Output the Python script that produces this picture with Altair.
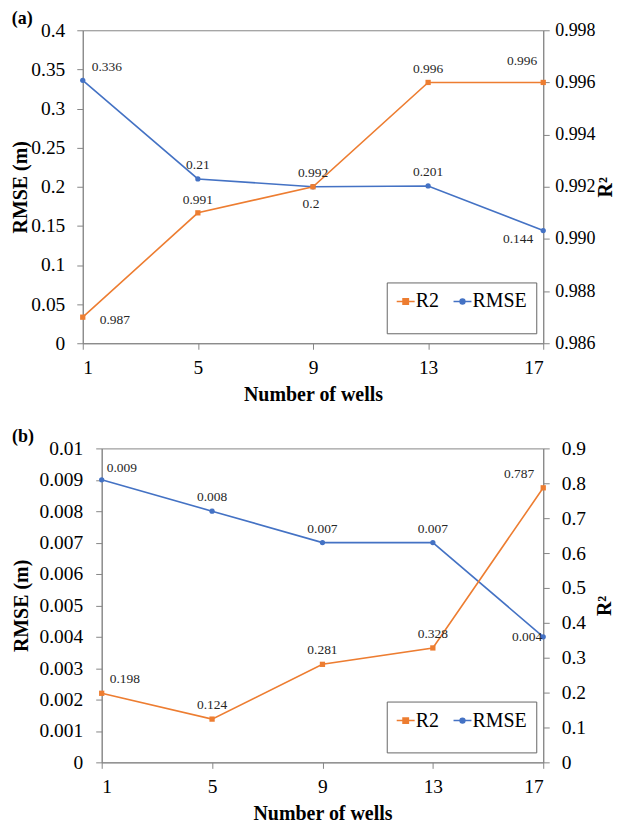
import altair as alt
import pandas as pd

# ---------------- data ----------------
wells = [1, 5, 9, 13, 17]
series_names = ["R2", "RMSE"]
series_colors = ["#ED7D31", "#4472C4"]

a_rmse = [0.336, 0.21, 0.2, 0.201, 0.144]
a_r2 = [0.987, 0.991, 0.992, 0.996, 0.996]
b_rmse = [0.009, 0.008, 0.007, 0.007, 0.004]
b_r2 = [0.198, 0.124, 0.281, 0.328, 0.787]

a_rmse_ticks = [0, 0.05, 0.1, 0.15, 0.2, 0.25, 0.3, 0.35, 0.4]
a_r2_ticks = [0.986, 0.988, 0.990, 0.992, 0.994, 0.996, 0.998]
b_rmse_ticks = [0, 0.001, 0.002, 0.003, 0.004, 0.005, 0.006, 0.007, 0.008, 0.009, 0.01]
b_r2_ticks = [0, 0.1, 0.2, 0.3, 0.4, 0.5, 0.6, 0.7, 0.8, 0.9]

# ---------------- style ----------------
FONT = "Liberation Serif"
AXIS_GREY = "#868686"
# legend glyphs: short line with marker (the two move-tos only reserve entry height)
LEGEND_SHAPES = [
    "M0,-2.2M0,2.2M-1,0H1M-0.3,-0.3H0.3V0.3H-0.3Z",
    "M0,-2.2M0,2.2M-1,0H1M0.27,0A0.27,0.27,0,1,1,-0.27,0A0.27,0.27,0,1,1,0.27,0Z",
]
# label placement per point: (dx, dy, align)
PLACE_A = {
    "RMSE": [(9, -13, "left"), (0, -14, "center"), (-2, 17, "center"), (0, -14, "center"), (-10, 8, "right")],
    "R2": [(17, 3, "left"), (0, -13, "center"), (0, -14, "center"), (0, -13, "center"), (-6, -21, "right")],
}
PLACE_B = {
    "RMSE": [(5, -12, "left"), (0, -14, "center"), (0, -14, "center"), (0, -14, "center"), (-1, 0, "right")],
    "R2": [(8, -14, "left"), (0, -14, "center"), (0, -14, "center"), (0, -14, "center"), (-9, -14, "right")],
}
LEGEND_RESOLVE = dict(fill="independent", stroke="independent", shape="independent")


def side(name, values, dom, ticks, fmt, orient, title, place, x_enc, lab_pad, title_pad,
         title_baseline, label_size, legend=None):
    col = series_colors[series_names.index(name)]
    df = pd.DataFrame({"wells": wells, "series": [name] * len(wells), "value": values,
                       "label": [str(v) for v in values]})
    y = alt.Y("value:Q",
              scale=alt.Scale(domain=dom, nice=False, zero=False),
              axis=alt.Axis(orient=orient, values=ticks, format=fmt, title=title,
                            labelPadding=lab_pad, titlePadding=title_pad, labelFontSize=label_size,
                            titleAngle=270, titleBaseline=title_baseline, grid=False))
    base = alt.Chart(df).encode(x=x_enc, y=y)
    shape = "square" if name == "R2" else "circle"
    layers = [
        base.mark_line(strokeWidth=1.6, color=col),
        base.mark_point(filled=True, opacity=1, size=28, shape=shape, color=col),
    ]
    for i, (dx, dy, align) in enumerate(place):
        layers.append(
            alt.Chart(df.iloc[[i]]).mark_text(
                font=FONT, fontSize=13.5, color="#262626", dx=dx, dy=dy,
                align=align, baseline="middle"
            ).encode(x=x_enc, y=y, text="label:N")
        )
    if legend is not None:
        lg = alt.Legend(
            title=None, orient="none", legendX=legend[0], legendY=legend[1],
            direction="horizontal", strokeColor="#666666", fillColor="white",
            padding=9, labelFont=FONT, labelFontSize=20, labelColor="black",
            symbolSize=324, symbolStrokeWidth=1.5, symbolOpacity=1,
            labelOffset=0, columnPadding=11,
        )
        sc = alt.Scale(domain=series_names, range=series_colors)
        leg_df = pd.DataFrame({"wells": wells, "series": ["RMSE"] * len(wells), "value": values})
        layers.append(
            alt.Chart(leg_df).mark_point(filled=True, opacity=0).encode(
                x=x_enc, y=y,
                fill=alt.Fill("series:N", scale=sc, legend=lg),
                stroke=alt.Stroke("series:N", scale=sc, legend=lg),
                shape=alt.Shape("series:N", scale=alt.Scale(domain=series_names, range=LEGEND_SHAPES), legend=lg),
            )
        )
    return alt.layer(*layers)


def panel(tag, rmse, r2, rmse_dom, rmse_ticks, r2_dom, r2_ticks, r2_fmt, place, w, h, legend_xy,
          left_lab_pad, left_title_pad, right_lab_pad, right_title_pad, right_label_size):
    x_enc = alt.X("wells:Q", scale=alt.Scale(domain=[1, 17], nice=False, zero=False),
                  axis=alt.Axis(values=wells, title="Number of wells", labelPadding=9.5,
                                titlePadding=7.5, grid=False))
    left = side("RMSE", rmse, rmse_dom, rmse_ticks, "~g", "left", "RMSE (m)", place["RMSE"], x_enc,
                left_lab_pad, left_title_pad, "bottom", 19.5, legend=legend_xy)
    right = side("R2", r2, r2_dom, r2_ticks, r2_fmt, "right", "R²", place["R2"], x_enc,
                 right_lab_pad, right_title_pad, "top", right_label_size)
    return alt.layer(left, right).resolve_scale(y="independent").properties(
        width=w, height=h,
        title=alt.TitleParams(tag, anchor="start", frame="bounds", font=FONT, fontSize=18,
                              fontWeight="bold", color="black", offset=-8, dx=1),
    )


pa = panel("(a)", a_rmse, a_r2, [0, 0.4], a_rmse_ticks, [0.986, 0.998], a_r2_ticks, ".3f",
           PLACE_A, 462, 314, (305, 253), 12, 0, 5.5, 0, 18)
pb = panel("(b)", b_rmse, b_r2, [0, 0.01], b_rmse_ticks, [0, 0.9], b_r2_ticks, "~g",
           PLACE_B, 443, 315, (286, 254), 13, 8, 12, 9, 19.5)

# empty, invisible view that indents panel (b)'s plot area relative to panel (a)
indent = alt.Chart(pd.DataFrame({"wells": [1]})).mark_point(opacity=0).properties(
    width=19, height=1, view=alt.ViewBackground(stroke="transparent")
)
row_b = alt.hconcat(indent, pb, spacing=0, bounds="flush").resolve_scale(**LEGEND_RESOLVE)

chart = alt.vconcat(pa, row_b, spacing=22.5).resolve_scale(**LEGEND_RESOLVE).properties(
    padding={"left": 2, "top": 0, "right": -2, "bottom": 0}
).configure_view(
    stroke=AXIS_GREY, strokeWidth=1
).configure_axis(
    domainColor=AXIS_GREY, tickColor=AXIS_GREY, tickSize=6,
    labelFont=FONT, labelFontSize=19.5, labelColor="black",
    titleFont=FONT, titleFontSize=20, titleFontWeight="bold", titleColor="black",
)

chart.save("out.html", embed_options={"renderer": "svg", "actions": False})
